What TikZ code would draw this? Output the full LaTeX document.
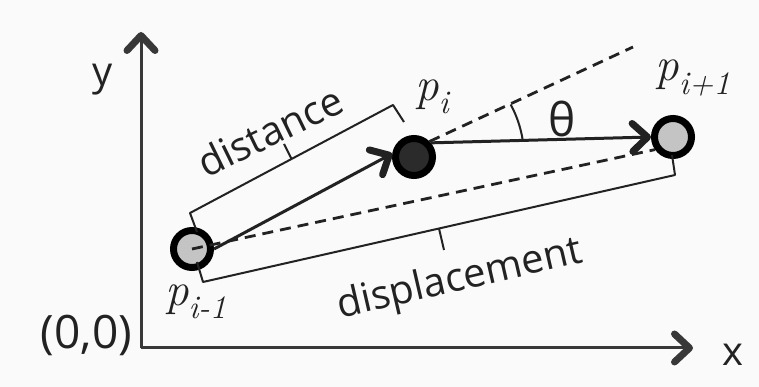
\documentclass[tikz,border=0pt]{standalone}
\usepackage{fontspec}
\setmainfont{Open Sans}
\newfontfamily\lmserif{Latin Modern Roman}
\usetikzlibrary{arrows.meta,calc}
\definecolor{bg}{HTML}{FAFAFA}
\definecolor{ink}{HTML}{222222}
\definecolor{ptgray}{HTML}{C4C4C4}
\definecolor{ptdark}{HTML}{2B2B2B}
\begin{document}
\begin{tikzpicture}[x=1pt,y=1pt,
  pt/.style={circle,draw=black,line width=7pt,minimum size=37pt,inner sep=0pt},
  barb/.style={-{Straight Barb[length=15pt,width=28pt,line width=7pt,round]}},
  axis/.style={draw=ink!90,line width=3pt,barb},
  vec/.style={draw=ink,line width=3pt,barb},
  dashline/.style={draw=ink,line width=2.8pt,dash pattern=on 11pt off 7pt},
  brk/.style={draw=ink,line width=2pt,line join=round},
  lbl/.style={inner sep=0pt,text=ink,font=\fontsize{40}{48}\selectfont},
  plbl/.style={inner sep=0pt,text=ink,font=\lmserif\fontsize{47}{54}\selectfont}]
\useasboundingbox (0,0) rectangle (759,387);
\fill[bg] (0,0) rectangle (759,387);
% axes
\coordinate (O) at (141,39);
\coordinate (ytip) at (141,355);
\coordinate (xtip) at (693,39);
\draw[axis] (O) -- (ytip);
\draw[axis] (O) -- (xtip);
\node[lbl] (ylab) at (102.5,307) {y};
\node[lbl] (xlab) at (733,32) {x};
\node[lbl,font=\fontsize{46}{54}\selectfont] (olab) at (86.5,52) {(0,0)};
% points
\node[pt,fill=ptgray] (a) at (192,138) {};
\node[pt,fill=ptdark] (b) at (414,230) {};
\node[pt,fill=ptgray] (c) at (673,250) {};
\node[plbl] (la) at (196,85) {\textit{p}\textsubscript{\textit{i-1}}};
\node[plbl] (lb) at (433,290) {\textit{p}\textsubscript{\textit{i}}};
\node[plbl] (lc) at (693,309) {\textit{p}\textsubscript{\textit{i+1}}};
% vectors
\draw[vec] (a.east) -- (b.171);
\draw[vec] (b.40) -- (c.west);
% dashed
\coordinate (e) at (633,340);
\draw[dashline] (a.center) -- (c.215);
\draw[dashline] (b.45) -- (e);
% angle
\draw[brk] (414,230) ++(9:110) arc[start angle=9,end angle=28.5,radius=110];
\node[lbl,font=\fontsize{46}{54}\selectfont] (th) at (562,268) {θ};
% distance bracket
\coordinate (d0) at (197,155);
\coordinate (d1) at (190,174);
\coordinate (d2) at (393,282);
\coordinate (d3) at (404,265);
\coordinate (dm) at (291.5,228);
\coordinate (dt) at (284,243);
\draw[brk] (d0) -- (d1) -- (d2) -- (d3);
\draw[brk] (dm) -- (dt);
\node[lbl,rotate=26] (dist) at (270,256) {distance};
% displacement bracket
\coordinate (s0) at (197,125);
\coordinate (s1) at (203,105);
\coordinate (s2) at (675,212);
\coordinate (s3) at (672,232);
\coordinate (sm) at (439,158.5);
\coordinate (st) at (444,137);
\draw[brk] (s0) -- (s1) -- (s2) -- (s3);
\draw[brk] (sm) -- (st);
\node[lbl,rotate=13] (disp) at (460,107) {displacement};
\end{tikzpicture}
\end{document}
